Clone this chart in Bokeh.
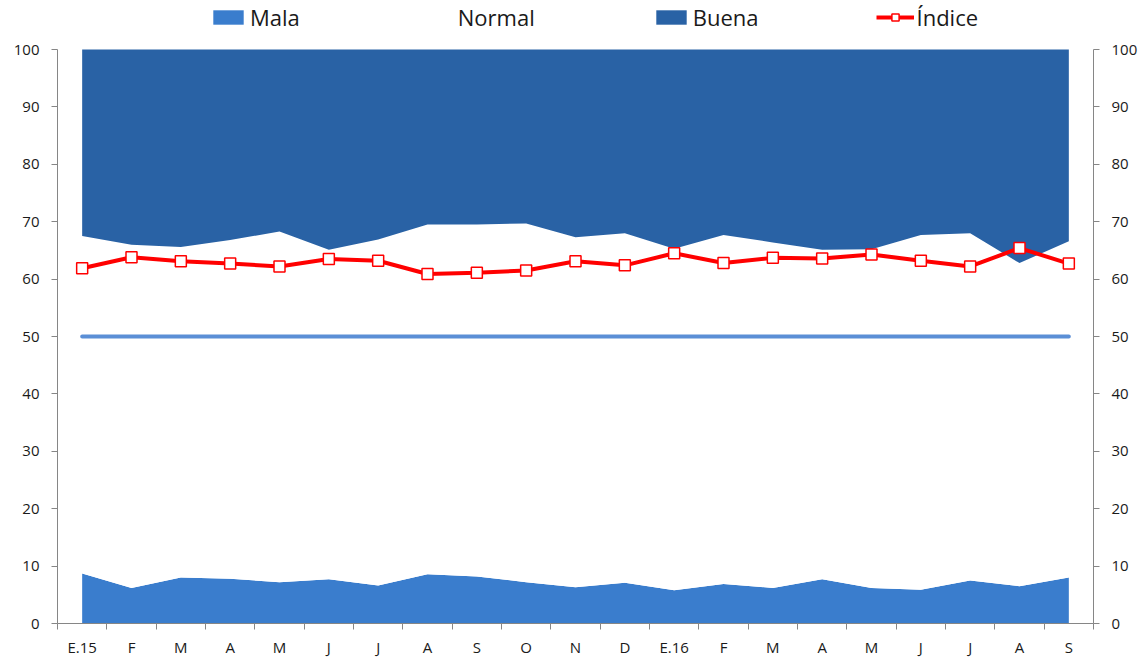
from bokeh.plotting import figure
from bokeh.models import (Legend, LegendItem, LinearAxis, FixedTicker, Range1d,
                          ColumnDataSource)
from bokeh.embed import file_html
from bokeh.resources import INLINE

# ---- data ----
months = ["E.15", "F", "M", "A", "M", "J", "J", "A", "S", "O", "N", "D",
          "E.16", "F", "M", "A", "M", "J", "J", "A", "S"]
mala = [8.7, 6.2, 8.0, 7.8, 7.2, 7.7, 6.6, 8.6, 8.2, 7.2, 6.3, 7.1,
        5.8, 6.9, 6.2, 7.7, 6.2, 5.9, 7.5, 6.5, 8.0]
buena = [32.5, 34.0, 34.4, 33.2, 31.7, 34.9, 33.1, 30.5, 30.5, 30.3, 32.7, 32.0,
         34.7, 32.3, 33.6, 34.9, 34.8, 32.3, 32.0, 37.2, 33.4]
normal = [round(100 - b - m, 1) for b, m in zip(buena, mala)]
indice = [61.9, 63.8, 63.1, 62.7, 62.2, 63.5, 63.2, 60.9, 61.1, 61.5, 63.1, 62.4,
          64.5, 62.8, 63.7, 63.6, 64.3, 63.2, 62.2, 65.4, 62.7]
referencia = [50] * len(months)
y_ticks = [0, 10, 20, 30, 40, 50, 60, 70, 80, 90, 100]

x = list(range(len(months)))
mala_top = mala
normal_top = [m + n for m, n in zip(mala, normal)]
src = ColumnDataSource(dict(x=x, zero=[0] * len(x), mala_top=mala_top,
                            normal_top=normal_top, hundred=[100] * len(x),
                            indice=indice, ref=referencia))

FONT = "Open Sans"
GRAY = "#868686"
TXT = "#1a1a1a"
C_MALA = "#3a7dcd"
C_BUENA = "#2962a5"

# frame extends to the top of the page so the legend can sit above the 0-100 block
p = figure(width=1145, height=659, output_backend="svg", toolbar_location=None,
           x_range=Range1d(-0.5, len(x) - 0.5), y_range=Range1d(0, 108.54),
           min_border_left=57, min_border_right=52, min_border_top=0,
           min_border_bottom=36, y_axis_location=None, x_axis_location=None)
p.outline_line_color = None
p.xgrid.visible = False
p.ygrid.visible = False
p.background_fill_color = "white"
p.border_fill_color = "white"

r_mala = p.varea(x="x", y1="zero", y2="mala_top", source=src, fill_color=C_MALA)
r_normal = p.varea(x="x", y1="mala_top", y2="normal_top", source=src, fill_color="white")
r_buena = p.varea(x="x", y1="normal_top", y2="hundred", source=src, fill_color=C_BUENA)
p.line(x="x", y="ref", source=src, line_color="#5b8fd6", line_width=4, line_cap="round")
r_line = p.line(x="x", y="indice", source=src, line_color="#ff0000", line_width=4,
                line_join="round")
r_pts = p.scatter(x="x", y="indice", source=src, marker="square", size=11,
                  fill_color="white", line_color="#ff0000", line_width=1.5)

# axes
def style_y(ax):
    ax.ticker = FixedTicker(ticks=y_ticks)
    ax.bounds = (0, 100)
    ax.axis_line_color = GRAY
    ax.major_tick_line_color = GRAY
    ax.major_tick_out = 6
    ax.major_tick_in = 0
    ax.minor_tick_line_color = None
    ax.major_label_standoff = 12
    ax.major_label_text_font = FONT
    ax.major_label_text_font_size = "15px"
    ax.major_label_text_color = TXT

yl = LinearAxis()
style_y(yl)
p.add_layout(yl, "left")
yr = LinearAxis()
style_y(yr)
p.add_layout(yr, "right")

xa = LinearAxis()
xa.ticker = FixedTicker(ticks=x, minor_ticks=[i - 0.5 for i in range(len(x) + 1)])
xa.major_label_overrides = {i: m for i, m in enumerate(months)}
xa.axis_line_color = GRAY
xa.major_tick_line_color = None
xa.major_tick_out = 0
xa.major_tick_in = 0
xa.minor_tick_line_color = GRAY
xa.minor_tick_out = 6
xa.minor_tick_in = 0
xa.major_label_standoff = 7
xa.major_label_text_font = FONT
xa.major_label_text_font_size = "15px"
xa.major_label_text_color = TXT
p.add_layout(xa, "below")

legend = Legend(items=[LegendItem(label="Mala", renderers=[r_mala]),
                       LegendItem(label="Normal", renderers=[r_normal]),
                       LegendItem(label="Buena", renderers=[r_buena]),
                       LegendItem(label="Índice", renderers=[r_line, r_pts])],
                orientation="horizontal", location=(152, 591), spacing=117,
                glyph_width=38, glyph_height=18, label_standoff=3, padding=0,
                margin=0, border_line_alpha=0, background_fill_alpha=0,
                label_text_font=FONT, label_text_font_size="22px",
                label_text_color=TXT)
p.add_layout(legend, "center")

open("out.html", "w").write(file_html(p, INLINE))
